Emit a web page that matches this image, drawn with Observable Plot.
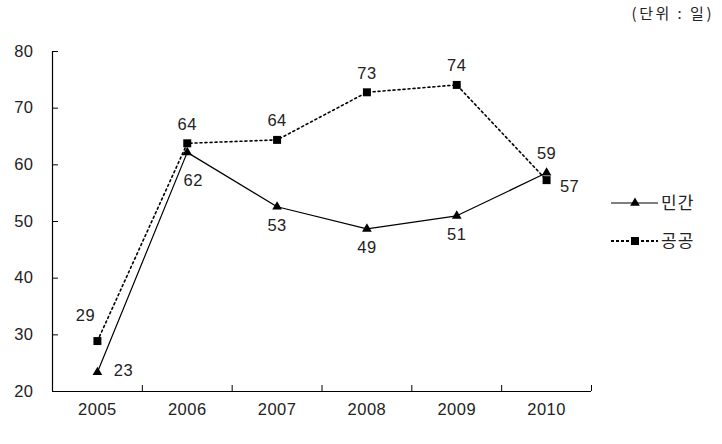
<!DOCTYPE html>
<html>
<head>
<meta charset="utf-8">
<script src="https://cdn.jsdelivr.net/npm/d3@7"></script>
<script src="https://cdn.jsdelivr.net/npm/@observablehq/plot@0.6"></script>
<style>
  html, body { margin: 0; padding: 0; background: #fff; }
  #wrap { position: relative; width: 722px; height: 444px; overflow: hidden; }
  #unit { position: absolute; right: 8px; top: 2px; font-family: "Noto Sans CJK KR", sans-serif; font-size: 15px; letter-spacing: 2.5px; color: #222; }
  #legend { position: absolute; left: 605px; top: 182px; }
</style>
</head>
<body>
<div id="wrap">
  <div id="chart"></div>
  <div id="unit">(단위 : 일)</div>
  <svg id="legend" width="115" height="80"></svg>
</div>
<script>
const years = [2005, 2006, 2007, 2008, 2009, 2010];
const seriesNames = ["민간", "공공"];
const privateVals = [23.4, 62.2, 52.6, 48.7, 51.0, 58.6];
const publicVals = [28.9, 63.8, 64.4, 72.8, 74.1, 57.3];
const privateLabelPos = ["right", "bottomright", "bottom", "bottom", "bottom", "top"];
const publicLabelPos = ["topleft", "top", "top", "top", "top", "rightbelow"];
const yTicks = [20, 30, 40, 50, 60, 70, 80];
const yDomain = [20, 80];

const offsets = {
  top: {dx: 0, dy: -19},
  bottom: {dx: 0, dy: 19},
  right: {dx: 26, dy: -2},
  topleft: {dx: -12, dy: -25},
  bottomright: {dx: 6, dy: 28},
  rightbelow: {dx: 23, dy: 7}
};

const rows = years.flatMap((yr, i) => [
  {year: yr, series: seriesNames[0], value: privateVals[i], pos: privateLabelPos[i]},
  {year: yr, series: seriesNames[1], value: publicVals[i], pos: publicLabelPos[i]}
]);
const priv = rows.filter(d => d.series === seriesNames[0]);
const pub = rows.filter(d => d.series === seriesNames[1]);

const xDomain = [years[0] - 0.5, years[years.length - 1] + 0.5];
const bounds = years.map(y => y + 0.5);

const FS = 16.5;
const textMarks = Object.entries(offsets).map(([k, o]) =>
  Plot.text(rows.filter(d => d.pos === k), {
    x: "year", y: "value", text: d => String(Math.round(d.value)),
    dx: o.dx, dy: o.dy, fill: "#222", fontSize: FS
  })
);

const chart = Plot.plot({
  width: 722,
  height: 444,
  marginTop: 51,
  marginBottom: 53,
  marginLeft: 52,
  marginRight: 131,
  x: {domain: xDomain, axis: null, label: null},
  y: {domain: yDomain, axis: null, label: null},
  style: {fontFamily: "Liberation Sans, Arial, sans-serif", fontSize: FS + "px", letterSpacing: "0.5px", color: "#000", background: "#fff"},
  marks: [
    Plot.axisY({ticks: yTicks, tickSize: -6, tickPadding: 25, tickFormat: d => String(d), fill: "#222", fontSize: FS, label: null}),
    Plot.axisX({ticks: years, tickSize: 0, tickPadding: 12, tickFormat: d => String(d), fill: "#222", fontSize: FS, label: null}),
    Plot.axisX({ticks: bounds, tickSize: -6, tickFormat: () => "", label: null}),
    Plot.ruleY([yDomain[0]], {stroke: "#000", strokeWidth: 1.2}),
    Plot.ruleX([xDomain[0]], {stroke: "#000", strokeWidth: 1.2}),
    Plot.line(priv, {x: "year", y: "value", stroke: "#000", strokeWidth: 1.2}),
    Plot.line(pub, {x: "year", y: "value", stroke: "#000", strokeWidth: 1.6, strokeDasharray: "2,3"}),
    Plot.dot(priv, {x: "year", y: "value", symbol: "triangle", r: 3.6, fill: "#000"}),
    Plot.dot(pub, {x: "year", y: "value", symbol: "square", r: 4.5, fill: "#000"}),
    ...textMarks
  ]
});
document.getElementById("chart").appendChild(chart);

// Legend
const lg = d3.select("#legend");
const items = [
  {name: seriesNames[0], dash: null, width: 1.2, symbol: d3.symbolTriangle, size: Math.PI * 3.6 * 3.6},
  {name: seriesNames[1], dash: "3,2", width: 1.8, symbol: d3.symbolSquare, size: Math.PI * 4.5 * 4.5}
];
items.forEach((it, i) => {
  const y = 21 + i * 38;
  const g = lg.append("g");
  g.append("line").attr("x1", 6).attr("x2", 53).attr("y1", y).attr("y2", y)
    .attr("stroke", "#000").attr("stroke-width", it.width).attr("stroke-dasharray", it.dash);
  g.append("path").attr("d", d3.symbol(it.symbol, it.size)()).attr("transform", `translate(30,${y})`).attr("fill", "#000");
  g.append("text").attr("x", 56).attr("y", y).attr("dy", "0.35em")
    .attr("font-family", "Noto Sans CJK KR, sans-serif").attr("font-size", 17).attr("letter-spacing", 1).attr("fill", "#222").text(it.name);
});
</script>
</body>
</html>
